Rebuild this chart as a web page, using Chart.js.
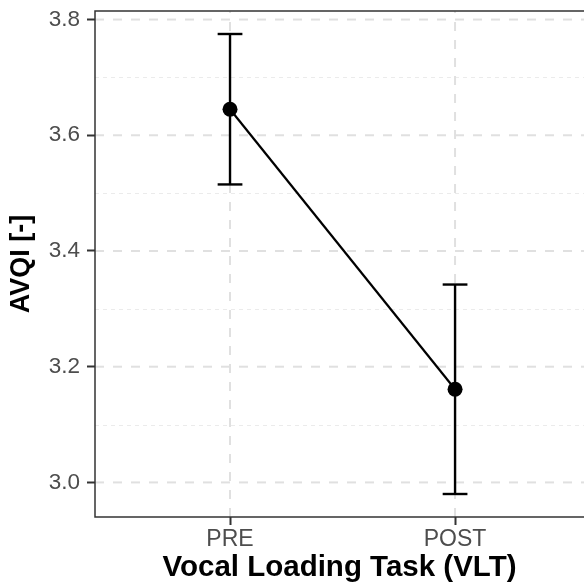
<!DOCTYPE html>
<html><head><meta charset="utf-8">
<script src="https://cdn.jsdelivr.net/npm/chart.js@4"></script>
<style>html,body{margin:0;padding:0;background:#fff;overflow:hidden}#wrap{width:584px;height:587px;position:relative}</style>
</head><body><div id="wrap"><canvas id="c"></canvas></div>
<script>
const categories = ['PRE', 'POST'];
const means  = [3.645, 3.161];
const lowers = [3.515, 2.980];
const uppers = [3.775, 3.342];
const yMajorTicks = [3.0, 3.2, 3.4, 3.6, 3.8];
const yMinorTicks = [3.1, 3.3, 3.5, 3.7];
const xTitle = 'Vocal Loading Task (VLT)';
const yTitle = 'AVQI [-]';

const lo = Math.min(...lowers), hi = Math.max(...uppers);
const padY = 0.05 * (hi - lo);
const FONT = "'Liberation Sans', Arial, sans-serif";

function seg(ctx, x1, y1, x2, y2) { ctx.beginPath(); ctx.moveTo(x1, y1); ctx.lineTo(x2, y2); ctx.stroke(); }

const ggPanel = {
  id: 'ggPanel',
  beforeDatasetsDraw(chart) {
    const { ctx, chartArea: a, scales: { x, y } } = chart;
    ctx.save();
    ctx.beginPath(); ctx.rect(a.left, a.top, a.right - a.left, a.bottom - a.top); ctx.clip();
    ctx.strokeStyle = '#ebebeb'; ctx.lineWidth = 1; ctx.setLineDash([4, 4]);
    yMinorTicks.forEach(v => { const p = Math.round(y.getPixelForValue(v)) + 0.5; seg(ctx, a.left, p, a.right, p); });
    ctx.strokeStyle = '#e0e0e0'; ctx.lineWidth = 2; ctx.setLineDash([9, 9]);
    yMajorTicks.forEach(v => { const p = y.getPixelForValue(v); seg(ctx, a.left, p, a.right, p); });
    categories.forEach((c, i) => { const p = x.getPixelForValue(i + 1); seg(ctx, p, a.bottom, p, a.top); });
    ctx.restore();
    // panel border (right side falls outside the picture)
    ctx.save(); ctx.strokeStyle = '#333'; ctx.lineWidth = 1.5; ctx.setLineDash([]);
    ctx.beginPath(); ctx.moveTo(a.right + 5, a.top); ctx.lineTo(a.left, a.top); ctx.lineTo(a.left, a.bottom); ctx.lineTo(a.right + 5, a.bottom); ctx.stroke();
    ctx.restore();
    // error bars
    ctx.save(); ctx.strokeStyle = '#000'; ctx.lineWidth = 2.4;
    categories.forEach((c, i) => {
      const xc = x.getPixelForValue(i + 1), xl = x.getPixelForValue(i + 1 - 0.055), xr = x.getPixelForValue(i + 1 + 0.055);
      const yl = y.getPixelForValue(lowers[i]), yu = y.getPixelForValue(uppers[i]);
      seg(ctx, xc, yl, xc, yu); seg(ctx, xl, yl, xr, yl); seg(ctx, xl, yu, xr, yu);
    });
    ctx.restore();
  }
};

new Chart(document.getElementById('c'), {
  type: 'line',
  data: {
    datasets: [{
      data: categories.map((c, i) => ({ x: i + 1, y: means[i] })),
      borderColor: '#000', borderWidth: 2.2, backgroundColor: '#000',
      pointRadius: 7.5, pointBackgroundColor: '#000', pointBorderWidth: 0, pointHoverRadius: 7.5, tension: 0
    }]
  },
  options: {
    responsive: true, maintainAspectRatio: false, animation: false,
    layout: { autoPadding: false, padding: { top: 11, left: 0, right: 0, bottom: 0 } },
    plugins: { legend: { display: false }, tooltip: { enabled: false } },
    scales: {
      x: {
        type: 'linear', min: 0.4, max: 2.573,
        afterBuildTicks: s => { s.ticks = categories.map((c, i) => ({ value: i + 1 })); },
        afterFit: s => { s.height = 70; s.paddingLeft = 0; s.paddingRight = 0; },
        grid: { display: true, drawOnChartArea: false, drawTicks: true, tickLength: 8, tickColor: '#333', tickWidth: 2 },
        border: { display: false },
        ticks: { autoSkip: false, maxRotation: 0, padding: 3, color: '#4d4d4d',
          font: { family: FONT, size: 23, lineHeight: 1 },
          callback: v => categories[Math.round(v) - 1] },
        title: { display: true, text: xTitle, color: '#000', padding: { top: 0, bottom: 4.5 },
          font: { family: FONT, size: 29.5, weight: 'bold', lineHeight: 1 } }
      },
      y: {
        type: 'linear', min: lo - padY, max: hi + padY,
        afterBuildTicks: s => { s.ticks = yMajorTicks.map(v => ({ value: v })); },
        afterFit: s => { s.width = 95; s.paddingTop = 0; s.paddingBottom = 0; },
        grid: { display: true, drawOnChartArea: false, drawTicks: true, tickLength: 8, tickColor: '#333', tickWidth: 2 },
        border: { display: false },
        ticks: { autoSkip: false, padding: 7, color: '#4d4d4d',
          font: { family: FONT, size: 22.5, lineHeight: 1 },
          callback: v => v.toFixed(1) },
        title: { display: true, text: yTitle, color: '#000', padding: { top: 8, bottom: 0 },
          font: { family: FONT, size: 27, weight: 'bold', lineHeight: 1 } }
      }
    }
  },
  plugins: [ggPanel]
});
</script></body></html>
